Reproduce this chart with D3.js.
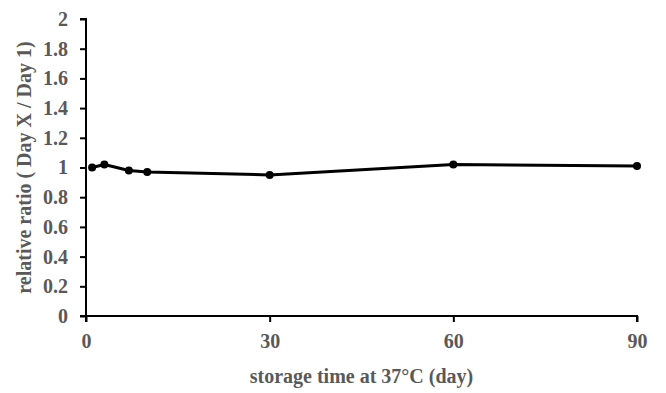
<!DOCTYPE html>
<html>
<head>
<meta charset="utf-8">
<script src="https://cdn.jsdelivr.net/npm/d3@7"></script>
<style>
  body { margin: 0; background: #fff; }
  text { font-family: "Liberation Serif", "Times New Roman", serif; font-weight: bold; fill: #595959; }
</style>
</head>
<body>
<div id="chart"></div>
<script>
// Data
const days = [1, 3, 7, 10, 30, 60, 90];
const ratios = [1.0, 1.02, 0.98, 0.97, 0.95, 1.02, 1.01];
const xTicks = [0, 30, 60, 90];
const yTicks = [0, 0.2, 0.4, 0.6, 0.8, 1, 1.2, 1.4, 1.6, 1.8, 2];

const width = 666, height = 393;
const margin = { left: 86, right: 29, top: 19, bottom: 77 };

const svg = d3.select('#chart').append('svg')
    .attr('width', width)
    .attr('height', height);

const x = d3.scaleLinear().domain([0, 90]).range([margin.left, width - margin.right]);
const y = d3.scaleLinear().domain([0, 2]).range([height - margin.bottom, margin.top]);

// Y axis
const yAxis = svg.append('g')
    .attr('transform', `translate(${margin.left},0)`)
    .call(d3.axisLeft(y).tickValues(yTicks).tickSize(6).tickPadding(12)
        .tickFormat(d => d3.format('~g')(d)));

// X axis
const xAxis = svg.append('g')
    .attr('transform', `translate(0,${y(0)})`)
    .call(d3.axisBottom(x).tickValues(xTicks).tickSize(6).tickPadding(12));

[yAxis, xAxis].forEach(a => {
    a.select('.domain').attr('stroke', '#000').attr('stroke-width', 2);
    a.selectAll('.tick line').attr('stroke', '#000').attr('stroke-width', 2);
    a.selectAll('.tick text')
        .style('font-size', '20px')
        .style('fill', '#595959');
});
yAxis.select('.domain').attr('d', `M-6,${y(2)}H0V${y(0)}H-6`);
xAxis.select('.domain').attr('d', `M${x(0)},6V0H${x(90)}V6`);

// Line + markers
const line = d3.line().x((d, i) => x(days[i])).y(d => y(d));
svg.append('path')
    .datum(ratios)
    .attr('fill', 'none')
    .attr('stroke', '#000')
    .attr('stroke-width', 3)
    .attr('stroke-linejoin', 'round')
    .attr('d', line);

svg.selectAll('circle.pt')
    .data(ratios)
    .enter().append('circle')
    .attr('class', 'pt')
    .attr('cx', (d, i) => x(days[i]))
    .attr('cy', d => y(d))
    .attr('r', 4)
    .attr('fill', '#000');

// Axis titles
svg.append('text')
    .attr('x', (x(0) + x(90)) / 2)
    .attr('y', 383)
    .attr('text-anchor', 'middle')
    .style('font-size', '20px')
    .text('storage time at 37\u00B0C (day)');

svg.append('text')
    .attr('transform', `translate(31,${(y(0) + y(2)) / 2}) rotate(-90)`)
    .attr('text-anchor', 'middle')
    .style('font-size', '20px')
    .text('relative ratio ( Day X / Day 1)');
</script>
</body>
</html>
